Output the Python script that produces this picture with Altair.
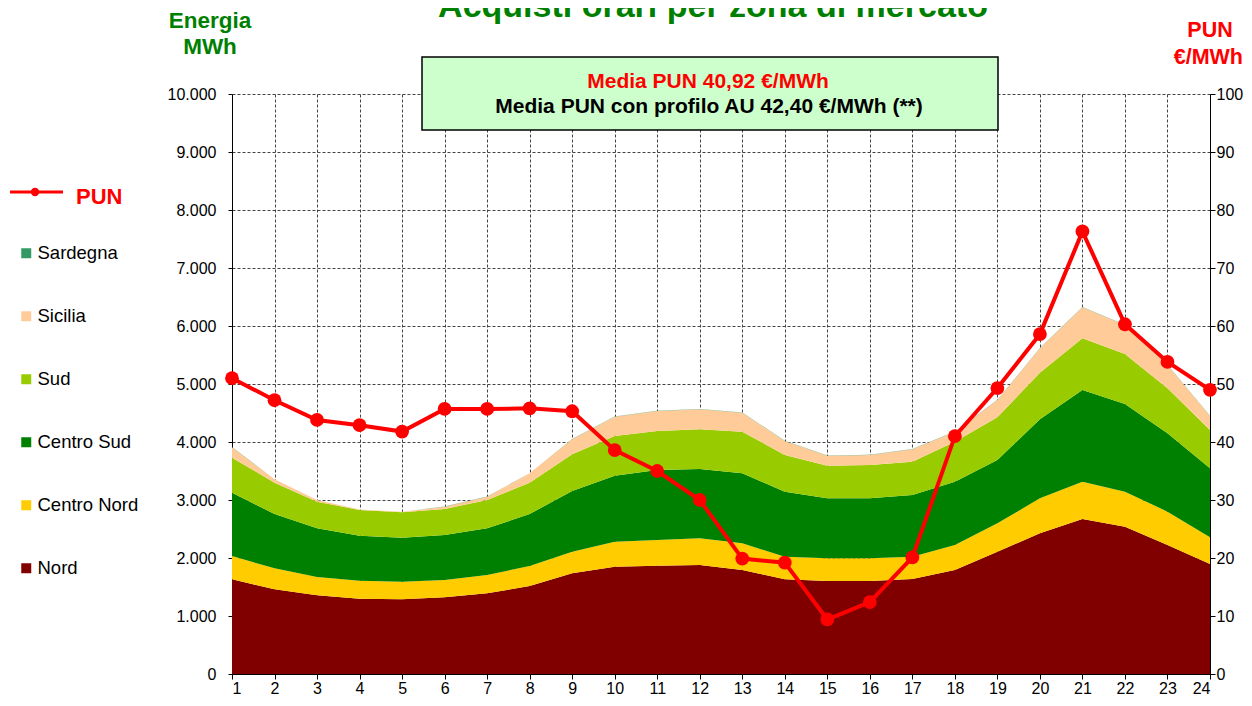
import altair as alt
import pandas as pd

hours = list(range(1, 25))

nord = [1633, 1460, 1356, 1299, 1287, 1322, 1391, 1517, 1736, 1850, 1868, 1879,
        1793, 1632, 1603, 1603, 1638, 1793, 2109, 2425, 2672, 2540, 2224, 1897]
centro_nord = [401, 362, 316, 310, 305, 299, 316, 345, 373, 431, 442, 460,
               460, 391, 391, 391, 385, 431, 489, 604, 644, 604, 575, 459]
centro_sud = [1092, 936, 839, 776, 759, 776, 804, 897, 1046, 1139, 1207, 1195,
              1207, 1121, 1035, 1035, 1063, 1092, 1092, 1362, 1581, 1511, 1350, 1190]
sud = [604, 541, 460, 443, 436, 448, 489, 540, 632, 683, 673, 684,
       718, 632, 563, 574, 575, 690, 735, 804, 891, 862, 777, 661]
sicilia = [178, 57, 29, 7, 10, 40, 57, 161, 259, 334, 344, 345,
           328, 241, 172, 173, 213, 172, 299, 420, 534, 500, 402, 241]
sardegna = [4, 3, 2, 2, 2, 2, 3, 3, 4, 4, 4, 4,
            4, 4, 3, 3, 4, 4, 4, 5, 5, 5, 4, 4]

pun = [51.0, 47.2, 43.8, 42.9, 41.8, 45.7, 45.7, 45.8, 45.3, 38.6, 35.0, 30.0,
       19.9, 19.2, 9.4, 12.4, 20.1, 41.0, 49.3, 58.6, 76.3, 60.3, 53.8, 49.0]

zones_stack = ["Nord", "Centro Nord", "Centro Sud", "Sud", "Sicilia", "Sardegna"]
zone_values = [nord, centro_nord, centro_sud, sud, sicilia, sardegna]
legend_order = ["Sardegna", "Sicilia", "Sud", "Centro Sud", "Centro Nord", "Nord"]
legend_colors = ["#339966", "#FFCC99", "#99CC00", "#008000", "#FFCC00", "#800000"]

title_text = "Acquisti orari per zona di mercato"
box_line1 = "Media PUN 40,92  €/MWh"
box_line2 = "Media PUN con profilo AU 42,40 €/MWh (**)"

rows = []
for i, (z, vals) in enumerate(zip(zones_stack, zone_values)):
    for h, v in zip(hours, vals):
        rows.append({"hour": h, "zone": z, "value": v, "ord": i})
df = pd.DataFrame(rows)
pun_df = pd.DataFrame({"hour": hours, "pun": pun})

FONT = "Liberation Sans"

x_enc = alt.X(
    "hour:Q",
    scale=alt.Scale(domain=[1, 24], nice=False, zero=False),
    axis=alt.Axis(
        values=hours, title=None, grid=True, gridColor="#444", gridDash=[3, 2],
        gridWidth=1, labelFontSize=16, labelPadding=1, tickSize=5,
        domainColor="black", tickColor="black", labelColor="black", labelFont=FONT,
    ),
)

areas = alt.Chart(df).mark_area(interpolate="linear").encode(
    x=x_enc,
    y=alt.Y(
        "value:Q", stack="zero",
        scale=alt.Scale(domain=[0, 10000], nice=False),
        axis=alt.Axis(
            values=list(range(0, 10001, 1000)), title=None, grid=True,
            gridColor="#444", gridDash=[3, 2], gridWidth=1,
            labelExpr="replace(format(datum.value, ','), ',', '.')",
            labelFontSize=16, labelPadding=12, tickSize=4, labelFont=FONT,
            domainColor="black", tickColor="black", labelColor="black",
        ),
    ),
    color=alt.Color(
        "zone:N",
        scale=alt.Scale(domain=legend_order, range=legend_colors),
        legend=alt.Legend(
            title=None, orient="none", legendX=-215, legendY=150,
            direction="vertical", symbolType="square", symbolSize=100,
            symbolStrokeWidth=0, labelFontSize=18.5, labelFont=FONT,
            labelColor="black", rowPadding=44, padding=0, labelOffset=2,
            symbolOpacity=1,
        ),
    ),
    order=alt.Order("ord:Q", sort="ascending"),
)

line = alt.Chart(pun_df).mark_line(
    color="#FF0000", strokeWidth=4,
    point=alt.OverlayMarkDef(filled=True, size=190, color="#FF0000", opacity=1),
).encode(
    x=alt.X("hour:Q"),
    y=alt.Y(
        "pun:Q", scale=alt.Scale(domain=[0, 100], nice=False),
        axis=alt.Axis(
            orient="right", values=list(range(0, 101, 10)), title=None,
            grid=False, labelFontSize=16, labelPadding=1, tickSize=5,
            labelFont=FONT, domainColor="black", tickColor="black",
            labelColor="black",
        ),
    ),
)

one = pd.DataFrame({"k": [0]})

box = alt.Chart(one).mark_rect(fill="#CCFFCC", stroke="black", strokeWidth=1.5).encode(
    x=alt.value(190), x2=alt.value(766), y=alt.value(-37), y2=alt.value(36)
)


def txt(s, x, y, size, color, align="center", weight="bold"):
    return alt.Chart(pd.DataFrame({"t": [s]})).mark_text(
        fontSize=size, font=FONT, fontWeight=weight, color=color,
        align=align, baseline="alphabetic",
    ).encode(text="t:N", x=alt.value(x), y=alt.value(y))


texts = [
    txt(title_text, 481, -77, 34, "#008000"),
    txt(box_line1, 476, -6, 21, "#FF0000"),
    txt(box_line2, 477, 19, 21, "black"),
    txt("Energia", -22, -66, 22.5, "#008000"),
    txt("MWh", -22, -40, 22.5, "#008000"),
    txt("PUN", 978, -57, 21.5, "#FF0000"),
    txt("€/MWh", 1011, -30, 21.5, "#FF0000", align="right"),
    txt("PUN", -156, 110, 22, "#FF0000", align="left"),
]

leg_line = alt.Chart(one).mark_rule(color="#FF0000", strokeWidth=3).encode(
    x=alt.value(-222), x2=alt.value(-169), y=alt.value(98)
)
leg_pt = alt.Chart(one).mark_point(filled=True, color="#FF0000", size=70, opacity=1).encode(
    x=alt.value(-197), y=alt.value(98)
)

chart = alt.layer(
    areas, line, box, *texts, leg_line, leg_pt
).resolve_scale(
    y="independent", color="independent"
).properties(
    width=978, height=580,
    autosize=alt.AutoSizeParams(type="none"),
    padding={"left": 224, "top": 86, "right": 34, "bottom": 24},
).configure_view(stroke=None)

chart.save("out.html", embed_options={"renderer": "svg", "actions": False})
